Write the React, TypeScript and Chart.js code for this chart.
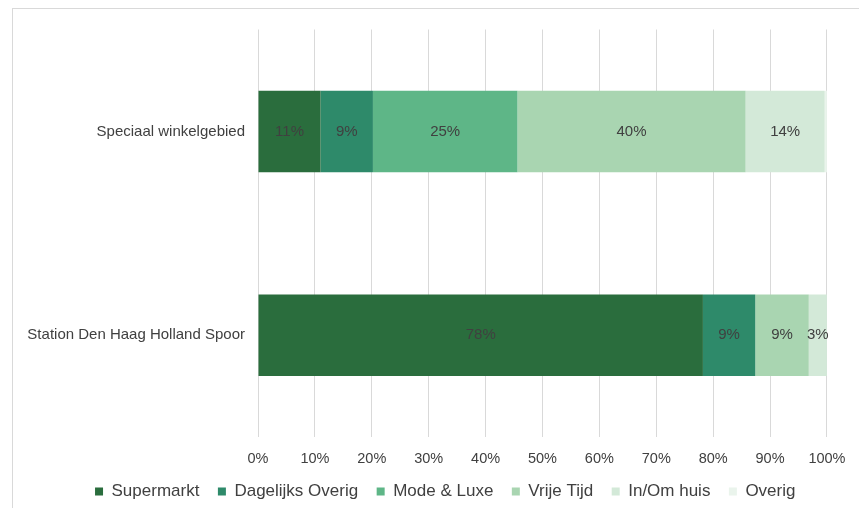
import React, { useEffect, useRef } from "react";
import { Chart, registerables } from "chart.js";

Chart.register(...registerables);

const categories = ["Speciaal winkelgebied", "Station Den Haag Holland Spoor"];
const seriesNames = ["Supermarkt", "Dagelijks Overig", "Mode & Luxe", "Vrije Tijd", "In/Om huis", "Overig"];
const supermarkt = [11.0, 78.2];
const dagelijksOverig = [9.2, 9.2];
const modeLuxe = [25.4, 0];
const vrijeTijd = [40.1, 9.4];
const inOmHuis = [13.9, 3.2];
const overig = [0.4, 0];
const seriesColors = ["#2a6d3d", "#2e8a6a", "#5eb687", "#a9d5b1", "#d3e9d8", "#eaf4ec"];
const xTicks = [0, 10, 20, 30, 40, 50, 60, 70, 80, 90, 100];

const FONT = "'Liberation Sans', Arial, sans-serif";

const dataLabelPlugin = {
  id: "segLabels",
  afterDatasetsDraw(chart: any) {
    const ctx = chart.ctx;
    ctx.save();
    ctx.font = `15px ${FONT}`;
    ctx.fillStyle = "#404040";
    ctx.textAlign = "center";
    ctx.textBaseline = "middle";
    chart.data.datasets.forEach((ds: any, di: number) => {
      const meta = chart.getDatasetMeta(di);
      if (meta.hidden) return;
      meta.data.forEach((el: any, i: number) => {
        const v = ds.data[i];
        if (v == null || v < 0.5) return;
        const { x, base, y } = el.getProps(["x", "base", "y"], true);
        ctx.fillText(`${Math.round(v)}%`, (x + base) / 2, y);
      });
    });
    ctx.restore();
  },
};

const legendShiftPlugin = {
  id: "legendShift",
  afterLayout(chart: any) {
    const lg = chart.legend;
    if (!lg) return;
    lg.left += 30;
    lg.right += 30;
    if (lg.legendHitBoxes) lg.legendHitBoxes.forEach((h: any) => (h.left += 30));
  },
};

export default function App() {
  const ref = useRef<HTMLCanvasElement | null>(null);
  useEffect(() => {
    if (!ref.current) return;
    const values = [supermarkt, dagelijksOverig, modeLuxe, vrijeTijd, inOmHuis, overig];
    const chart = new Chart(ref.current, {
      type: "bar",
      data: {
        labels: categories,
        datasets: seriesNames.map((name, i) => ({
          label: name,
          data: values[i],
          backgroundColor: seriesColors[i],
          borderWidth: 0,
          categoryPercentage: 1,
          barPercentage: 0.4,
        })),
      },
      options: {
        indexAxis: "y",
        animation: false,
        responsive: false,
        maintainAspectRatio: false,
        layout: { padding: { left: 0, right: 28.5, top: 27.5, bottom: 0 } },
        scales: {
          x: {
            stacked: true,
            min: 0,
            max: 100,
            afterBuildTicks: (scale: any) => {
              scale.ticks = xTicks.map((v) => ({ value: v }));
            },
            afterFit: (scale: any) => {
              scale.height = 27.5;
            },
            ticks: {
              callback: (v: any) => `${v}%`,
              font: { family: FONT, size: 14.5 },
              color: "#404040",
              padding: 13.5,
              maxRotation: 0,
            },
            grid: { color: "#d9d9d9", lineWidth: 1, drawTicks: false },
            border: { display: false },
          },
          y: {
            stacked: true,
            afterFit: (scale: any) => {
              scale.width = 258;
            },
            ticks: {
              font: { family: FONT, size: 15 },
              color: "#404040",
              padding: 13,
            },
            grid: { display: false, drawTicks: false },
            border: { display: false },
          },
        },
        plugins: {
          legend: {
            position: "bottom",
            labels: {
              boxWidth: 8,
              boxHeight: 8,
              padding: 18.5,
              font: { family: FONT, size: 17 },
              color: "#404040",
            },
          },
          tooltip: { enabled: false },
        },
      },
      plugins: [dataLabelPlugin, legendShiftPlugin],
    } as any);
    return () => chart.destroy();
  }, []);

  return (
    <div style={{ position: "fixed", left: 0, top: 0, width: 859, height: 508, overflow: "hidden", background: "#fff" }}>
      <div
        style={{
          position: "absolute",
          left: 12,
          top: 8,
          width: 2000,
          height: 2000,
          borderLeft: "1px solid #d9d9d9",
          borderTop: "1px solid #d9d9d9",
        }}
      />
      <canvas ref={ref} width={859} height={508} style={{ position: "absolute", left: 0, top: 2, width: 859, height: 508 }} />
    </div>
  );
}
